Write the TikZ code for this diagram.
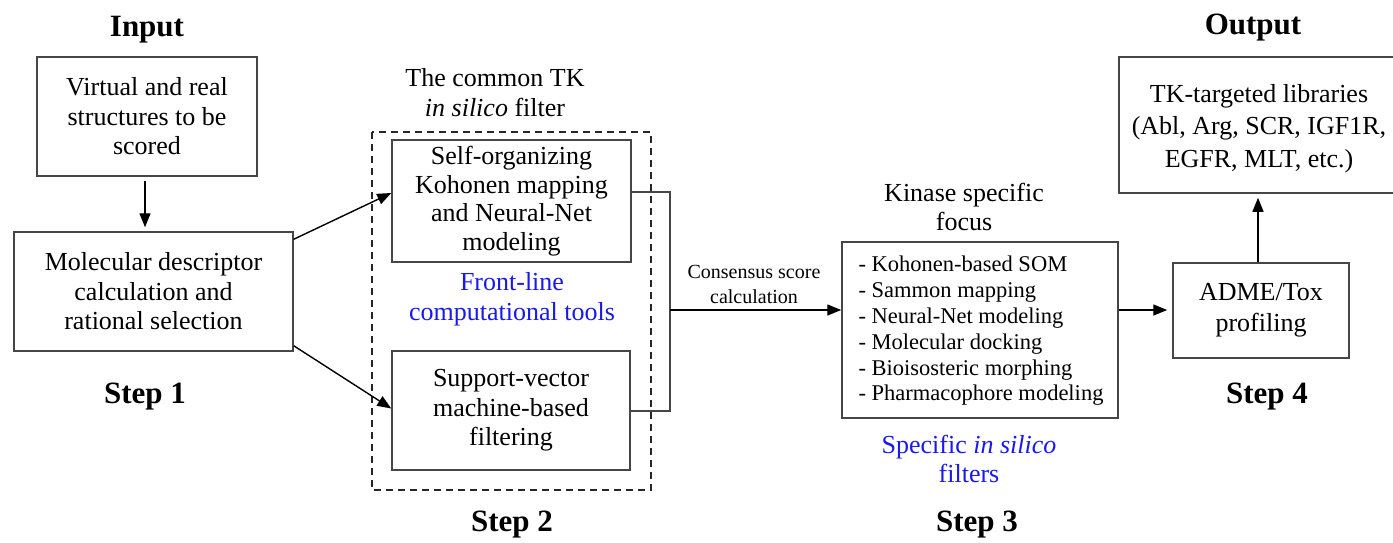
\documentclass[tikz,border=0pt]{standalone}
\usepackage{fontspec}
\setmainfont{Liberation Serif}
\usetikzlibrary{arrows.meta}
\definecolor{boxline}{RGB}{70,70,70}
\definecolor{textblue}{RGB}{25,25,235}
\tikzset{
  framebox/.style={draw=boxline, line width=1.5pt, rectangle, inner sep=0pt},
  plain/.style={align=center, inner sep=0pt, font=\rmfamily\fontsize{26}{29.5}\selectfont},
  bluetext/.style={plain, text=textblue},
  heading/.style={inner sep=0pt, font=\rmfamily\fontsize{31}{34}\selectfont\bfseries},
  smalltext/.style={align=center, inner sep=0pt, font=\rmfamily\fontsize{20}{25}\selectfont},
  arr/.style={-{Triangle[length=14pt,width=11pt]}, line width=1.4pt, black},
  link/.style={line width=1.3pt, boxline},
  dashframe/.style={draw=black!85, line width=1.8pt, dash pattern=on 7pt off 5pt}
}
\begin{document}
\begin{tikzpicture}[x=1pt,y=-1pt]
\useasboundingbox (0,0) rectangle (1393,542);
\fill[white] (0,0) rectangle (1393,542);

% headings
\node[heading] (hin) at (147,30) {Input};
\node[heading] (hout) at (1253,28) {Output};
\node[heading] (s1) at (145,397) {Step 1};
\node[heading] (s2) at (512,525) {Step 2};
\node[heading] (s3) at (977,525) {Step 3};
\node[heading] (s4) at (1267,397) {Step 4};

% step 1
\node[framebox, minimum width=220pt, minimum height=119pt] (b1) at (147,116.5) {};
\node[plain] (b1t) at (b1.center) {Virtual and real\\structures to be\\scored};
\node[framebox, minimum width=279pt, minimum height=119pt] (b2) at (153.5,291.5) {};
\node[plain] (b2t) at (b2.center) {Molecular descriptor\\calculation and\\rational selection};

% step 2
\draw[dashframe] (372,132) rectangle (651,490);
\node[plain] (common) at (495,92.5) {The common TK\\\textit{in silico} filter};
\node[framebox, minimum width=239pt, minimum height=122pt] (b3) at (511.5,201) {};
\node[plain, font=\rmfamily\fontsize{26}{28.5}\selectfont] (b3t) at (b3.center)
  {Self-organizing\\Kohonen mapping\\and Neural-Net\\modeling};
\node[bluetext] (front) at (512,299) {Front-line\\computational tools};
\node[framebox, minimum width=238pt, minimum height=119pt] (b4) at (511,410.5) {};
\node[plain] (b4t) at (b4.center) {Support-vector\\machine-based\\filtering};

% consensus
\coordinate (j) at (670,310);
\node[smalltext] (cons) at (754,284.5) {Consensus score\\calculation};

% step 3
\node[plain] (kin) at (964,207) {Kinase specific\\focus};
\node[framebox, minimum width=276pt, minimum height=176pt] (b5) at (980,330) {};
\node[plain, align=left, font=\rmfamily\fontsize{22.5}{25.8}\selectfont] (b5t) at (981,331)
  {- Kohonen-based SOM\\- Sammon mapping\\- Neural-Net modeling\\- Molecular docking\\- Bioisosteric morphing\\- Pharmacophore modeling};
\node[bluetext] (spec) at (969,459) {Specific \textit{in silico}\\filters};

% step 4
\node[framebox, minimum width=176pt, minimum height=95pt] (b6) at (1261,310.5) {};
\node[plain, font=\rmfamily\fontsize{26}{31}\selectfont] (b6t) at (b6.center) {ADME/Tox\\profiling};
\node[framebox, minimum width=281pt, minimum height=136pt] (b7) at (1259.5,125) {};
\node[plain, font=\rmfamily\fontsize{26}{32.5}\selectfont] (b7t) at (1259,128.5)
  {TK-targeted libraries\\(Abl, Arg, SCR, IGF1R,\\EGFR, MLT, etc.)};

% connectors
\draw[arr, shorten <=4pt, shorten >=4pt] (b1.south -| 145,0) -- (b2.north -| 145,0);
\draw[arr] ([yshift=-8pt]b2.north east) -- ([yshift=8pt]b3.west);
\draw[arr] ([yshift=6pt]b2.south east) -- ([yshift=2pt]b4.west);
\draw[link] ([yshift=9pt]b3.east) -| (j);
\draw[link] ([yshift=-0.5pt]b4.east) -| (j);
\draw[arr] (j) -- (b5.west |- j);
\draw[arr, shorten >=5pt] (b5.east |- j) -- (b6.west |- j);
\draw[arr, shorten >=4pt] (b6.north -| 1258,0) -- (b7.south -| 1258,0);
\end{tikzpicture}
\end{document}
